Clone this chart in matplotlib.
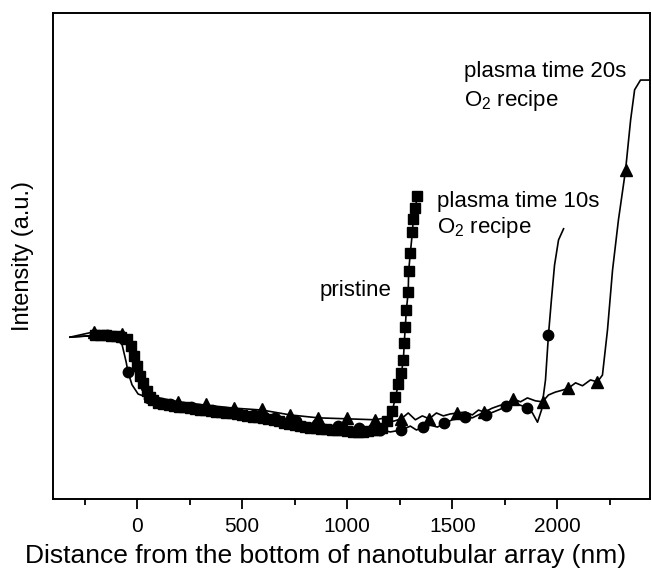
import matplotlib
matplotlib.use('Agg')
import matplotlib.pyplot as plt

plt.rcParams['font.family'] = ['Liberation Sans', 'DejaVu Sans']
plt.rcParams['mathtext.fontset'] = 'custom'
plt.rcParams['mathtext.rm'] = 'Liberation Sans'

# pristine profile (squares on every point)
pristine_x = [-319, -200, -175, -150, -125, -100, -75, -50, -30, -15, 0, 15, 30, 45, 60, 75,
              100, 125, 150, 175, 200, 225, 250, 275, 300, 325, 350, 375, 400, 425, 450,
              475, 500, 525, 550, 575, 600, 625, 650, 675, 700, 725, 750, 775, 800, 825,
              850, 875, 900, 925, 950, 975, 1000, 1025, 1050, 1075, 1100, 1125, 1140,
              1167, 1190, 1214, 1229, 1243, 1257, 1267, 1271, 1276, 1281, 1290, 1292,
              1300, 1310, 1314, 1324, 1333]
pristine_y = [33.3, 33.7, 33.8, 33.7, 33.6, 33.5, 33.3, 32.9, 31.5, 29.5, 27.3, 25.4, 23.8,
              22.2, 21.0, 20.3, 19.8, 19.6, 19.4, 19.2, 19.0, 18.9, 18.8, 18.5, 18.4, 18.3,
              18.2, 18.0, 17.8, 17.7, 17.6, 17.4, 17.2, 17.0, 16.9, 16.8, 16.6, 16.4, 16.2,
              16.0, 15.7, 15.4, 15.2, 15.0, 14.8, 14.7, 14.6, 14.5, 14.4, 14.3, 14.2, 14.1,
              13.9, 13.8, 13.8, 13.8, 13.9, 14.1, 14.2, 14.6, 16.0, 18.1, 20.9, 23.6, 25.9,
              28.6, 32.1, 35.4, 38.9, 42.6, 46.9, 50.6, 55.0, 57.6, 59.9, 62.3]

# plasma time 10s profile
p10_x = [-319, -248, -176, -105, -71, -52, -43, -24, 5, 57, 157, 257, 357, 457, 557, 657,
         757, 857, 957, 1057, 1157, 1205, 1257, 1300, 1329, 1362, 1395, 1429, 1462, 1500,
         1529, 1562, 1595, 1633, 1662, 1695, 1729, 1757, 1790, 1824, 1857, 1881, 1905,
         1924, 1943, 1957, 1971, 1986, 2005, 2029]
p10_y = [33.3, 33.5, 33.5, 33.3, 31.7, 28.2, 26.1, 23.5, 21.6, 20.8, 19.5, 18.9, 18.3, 17.9,
         17.3, 16.7, 16.0, 15.4, 15.0, 14.6, 14.2, 13.8, 14.2, 15.0, 14.2, 14.8, 15.2, 14.8,
         15.6, 16.3, 16.5, 16.9, 16.7, 17.5, 17.3, 17.9, 18.5, 19.1, 19.5, 19.3, 18.7, 17.7,
         15.8, 18.3, 24.5, 33.7, 40.9, 48.1, 53.3, 55.6]
p10_mx = [-143, -43, 57, 157, 257, 357, 457, 557, 657, 757, 857, 957, 1057, 1157, 1257,
          1362, 1462, 1562, 1662, 1757, 1857, 1957]
p10_my = [33.7, 26.1, 20.8, 19.5, 18.9, 18.3, 17.9, 17.3, 16.7, 16.0, 15.4, 15.0, 14.6, 14.2,
          14.2, 14.8, 15.6, 16.9, 17.3, 19.1, 18.7, 33.7]

# plasma time 20s profile
p20_x = [-319, -205, -71, -43, -10, 24, 62, 195, 329, 462, 595, 729, 862, 1000, 1133, 1181,
         1219, 1257, 1290, 1324, 1357, 1390, 1424, 1457, 1490, 1524, 1562, 1595, 1624,
         1652, 1690, 1729, 1757, 1790, 1824, 1857, 1895, 1929, 1957, 1990, 2024, 2052,
         2086, 2119, 2157, 2190, 2214, 2238, 2262, 2290, 2324, 2348, 2367, 2395, 2448]
p20_y = [33.3, 34.4, 34.0, 32.7, 26.5, 22.4, 21.2, 20.0, 19.3, 18.7, 18.3, 17.3, 16.7, 16.5,
         16.3, 16.7, 16.0, 16.5, 17.7, 16.3, 17.1, 16.5, 17.7, 17.1, 17.5, 17.7, 17.9, 17.3,
         18.3, 17.9, 18.7, 19.3, 19.3, 20.6, 20.0, 20.8, 20.2, 20.0, 21.4, 22.0, 22.4, 22.8,
         23.9, 23.3, 24.5, 24.1, 25.5, 34.8, 47.1, 57.4, 67.7, 78.0, 84.2, 86.2, 86.2]
p20_mx = [-205, -71, 62, 195, 329, 462, 595, 729, 862, 1000, 1133, 1257, 1390, 1524, 1652,
          1790, 1929, 2052, 2190, 2324]
p20_my = [34.4, 34.0, 21.2, 20.0, 19.5, 18.7, 18.5, 17.3, 16.7, 16.7, 16.3, 16.5, 16.5, 17.7,
          17.9, 20.6, 20.0, 22.8, 24.1, 67.7]

fig = plt.figure(figsize=(6.51, 5.72), dpi=100)
ax = fig.add_axes([0.0814, 0.1276, 0.917, 0.8497])

ax.plot(p20_x, p20_y, color='black', lw=1.2, zorder=2)
ax.plot(p20_mx, p20_my, ls='none', marker='^', ms=9, color='black', zorder=3)
ax.plot(p10_x, p10_y, color='black', lw=1.2, zorder=2)
ax.plot(p10_mx, p10_my, ls='none', marker='o', ms=7.5, color='black', zorder=3)
ax.plot(pristine_x, pristine_y, color='black', lw=1.2, marker='s', ms=7.5,
        markevery=slice(1, None), zorder=4)

# labels on the curves
fs = 16
ax.text(867, 42.8, 'pristine', fontsize=fs, va='center', ha='left')
ax.text(1429, 61.3, 'plasma time 10s', fontsize=fs, va='center', ha='left')
ax.text(1429, 55.9, r'O$_\mathregular{2}$ recipe', fontsize=fs, va='center', ha='left')
ax.text(1557, 87.9, 'plasma time 20s', fontsize=fs, va='center', ha='left')
ax.text(1557, 82.0, r'O$_\mathregular{2}$ recipe', fontsize=fs, va='center', ha='left')

ax.set_xlim(-400, 2440)
ax.set_ylim(0, 100)
ax.set_xticks([0, 500, 1000, 1500, 2000])
ax.set_xticks([-250, 250, 750, 1250, 1750, 2250], minor=True)
ax.set_yticks([])
ax.tick_params(axis='x', which='major', direction='out', length=7, width=1.3,
               labelsize=15, pad=6)
ax.tick_params(axis='x', which='minor', direction='out', length=4, width=1.3)
for s in ax.spines.values():
    s.set_linewidth(1.4)

ax.set_xlabel('Distance from the bottom of nanotubular array (nm)', fontsize=19)
ax.xaxis.set_label_coords(0.456, -0.093)
ax.set_ylabel('Intensity (a.u.)', fontsize=17, labelpad=14)

fig.savefig('out.png', dpi=100)
